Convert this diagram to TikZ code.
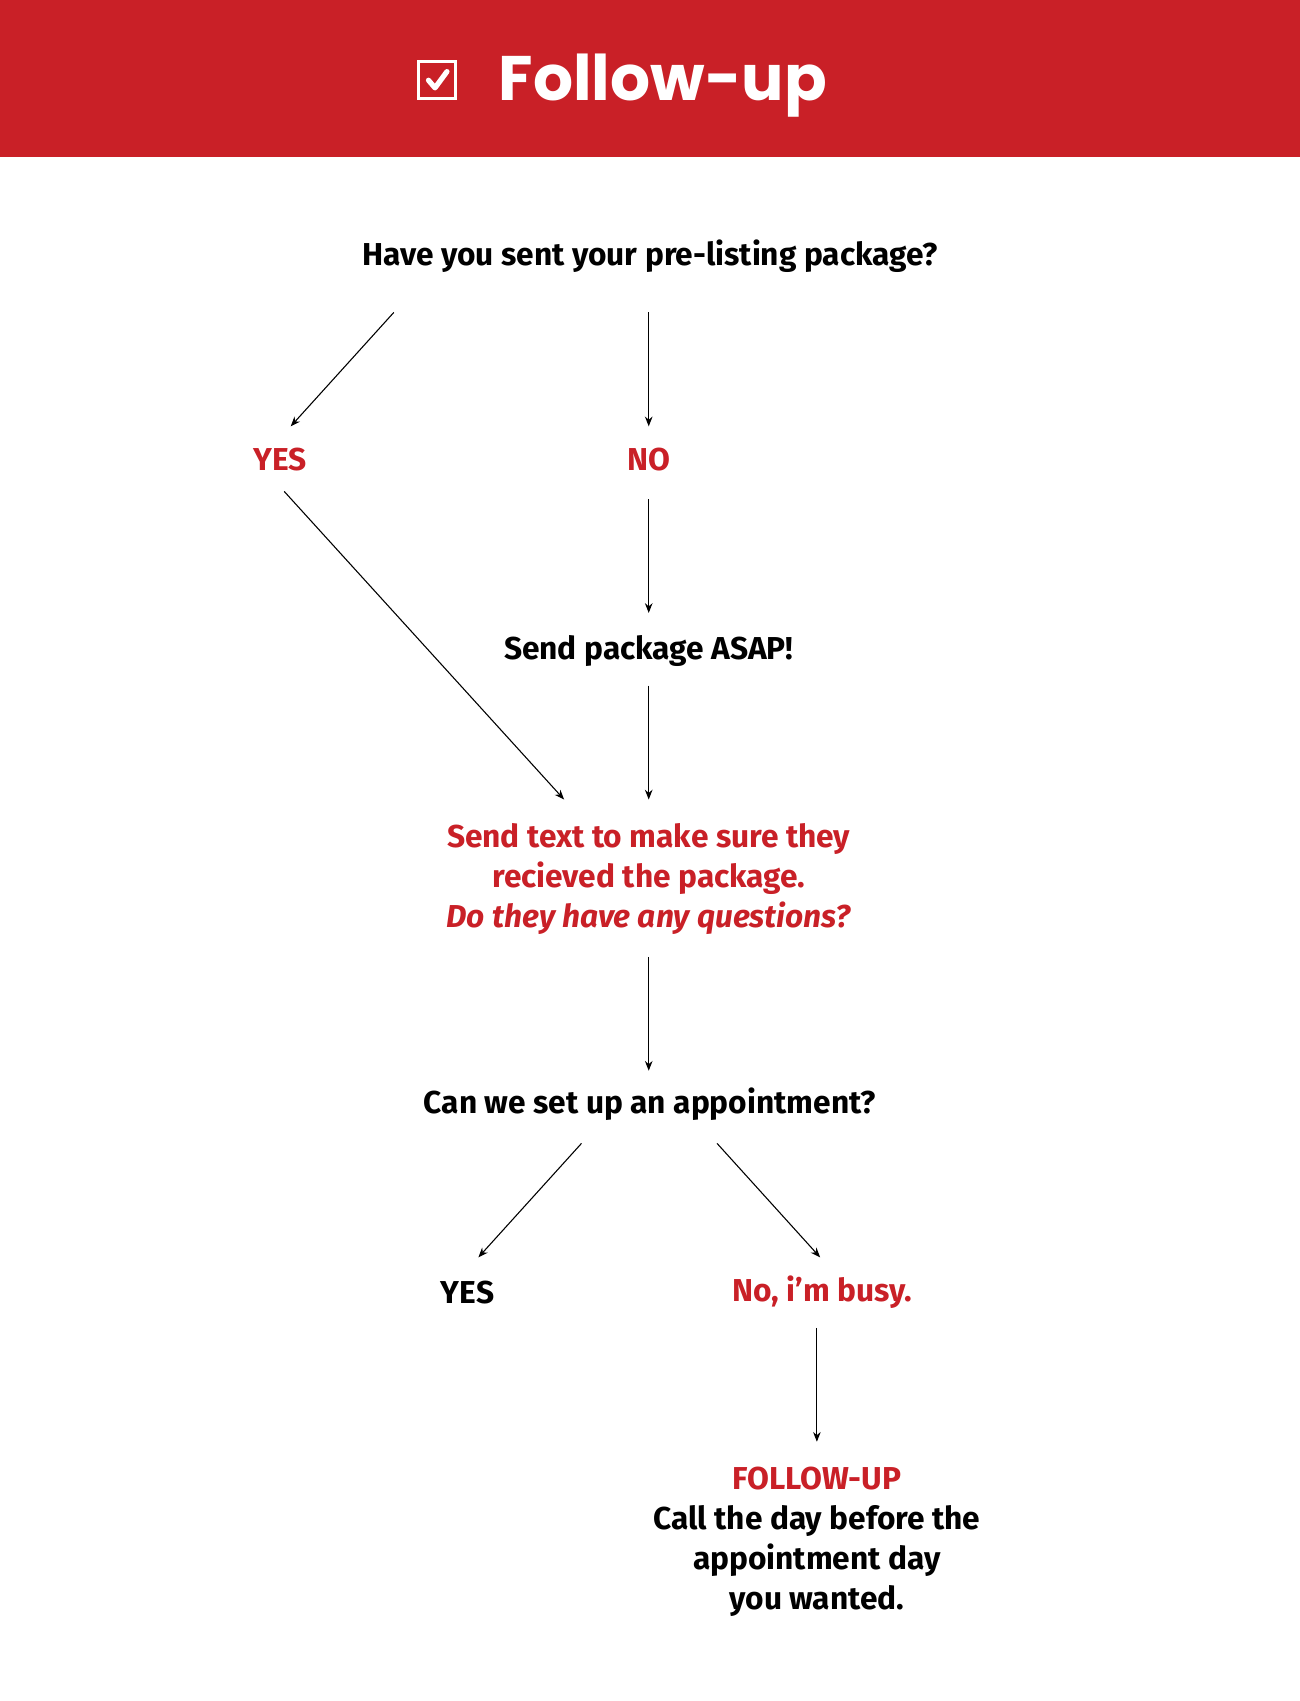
\documentclass[tikz,border=0pt]{standalone}
\usepackage{fontspec}
\setmainfont{Fira Sans}
\newfontfamily\titlefont{Poppins}
\usetikzlibrary{arrows.meta}
\definecolor{headRed}{RGB}{201,32,39}
\tikzset{
  lbl/.style={font=\bfseries\fontsize{14.6}{18.5}\selectfont,align=center,inner sep=0pt},
  redlbl/.style={lbl,text=headRed},
  arr/.style={draw,line width=0.5pt,-{Stealth[length=4.5pt,width=3.5pt]}}
}
\begin{document}
\begin{tikzpicture}[x=0.5pt,y=-0.5pt]
\path[use as bounding box,fill=white] (0,0) rectangle (1198,1568);
\path[fill=headRed] (0,0) rectangle (1198,145);
% header
\node[draw=white,line width=1.5pt,minimum size=17pt,inner sep=0pt] (box) at (403,74) {};
\draw[white,line width=2.4pt,line cap=round,line join=round] (395,74) -- (401,81) -- (412,66);
\node[text=white,font=\titlefont\bfseries\fontsize{29}{30}\selectfont,inner sep=0pt] (title) at (611,79) {Follow-up};
% labels
\node[lbl] (q1) at (599,236) {Have you sent your pre-listing package?};
\node[redlbl] (yes1) at (258,424) {YES};
\node[redlbl] (no1) at (598,424) {NO};
\node[lbl] (asap) at (598,600) {Send package ASAP!};
\node[redlbl] (text) at (598,810) {Send text to make sure they\\recieved the package.\\\itshape Do they have any questions?};
\node[lbl] (q2) at (599,1018) {Can we set up an appointment?};
\node[lbl] (yes2) at (431,1191) {YES};
\node[redlbl] (busy) at (758,1191) {No, i’m busy.};
\node[lbl] (fup) at (753,1421) {\textcolor{headRed}{FOLLOW-UP}\\Call the day before the\\appointment day\\you wanted.};
% connector ends
\coordinate (a1) at (363,288); \coordinate (a2) at (268,393);
\coordinate (b1) at (598,288); \coordinate (b2) at (598,393);
\coordinate (c1) at (598,460); \coordinate (c2) at (598,565);
\coordinate (d1) at (262,453); \coordinate (d2) at (520,737);
\coordinate (e1) at (598,632); \coordinate (e2) at (598,737);
\coordinate (f1) at (598,882); \coordinate (f2) at (598,987);
\coordinate (g1) at (536,1054); \coordinate (g2) at (441,1159);
\coordinate (h1) at (661,1054); \coordinate (h2) at (756,1159);
\coordinate (k1) at (753,1224); \coordinate (k2) at (753,1329);
\foreach \s/\t in {a1/a2,b1/b2,c1/c2,d1/d2,e1/e2,f1/f2,g1/g2,h1/h2,k1/k2}
  \path[arr] (\s) -- (\t);
\end{tikzpicture}
\end{document}
